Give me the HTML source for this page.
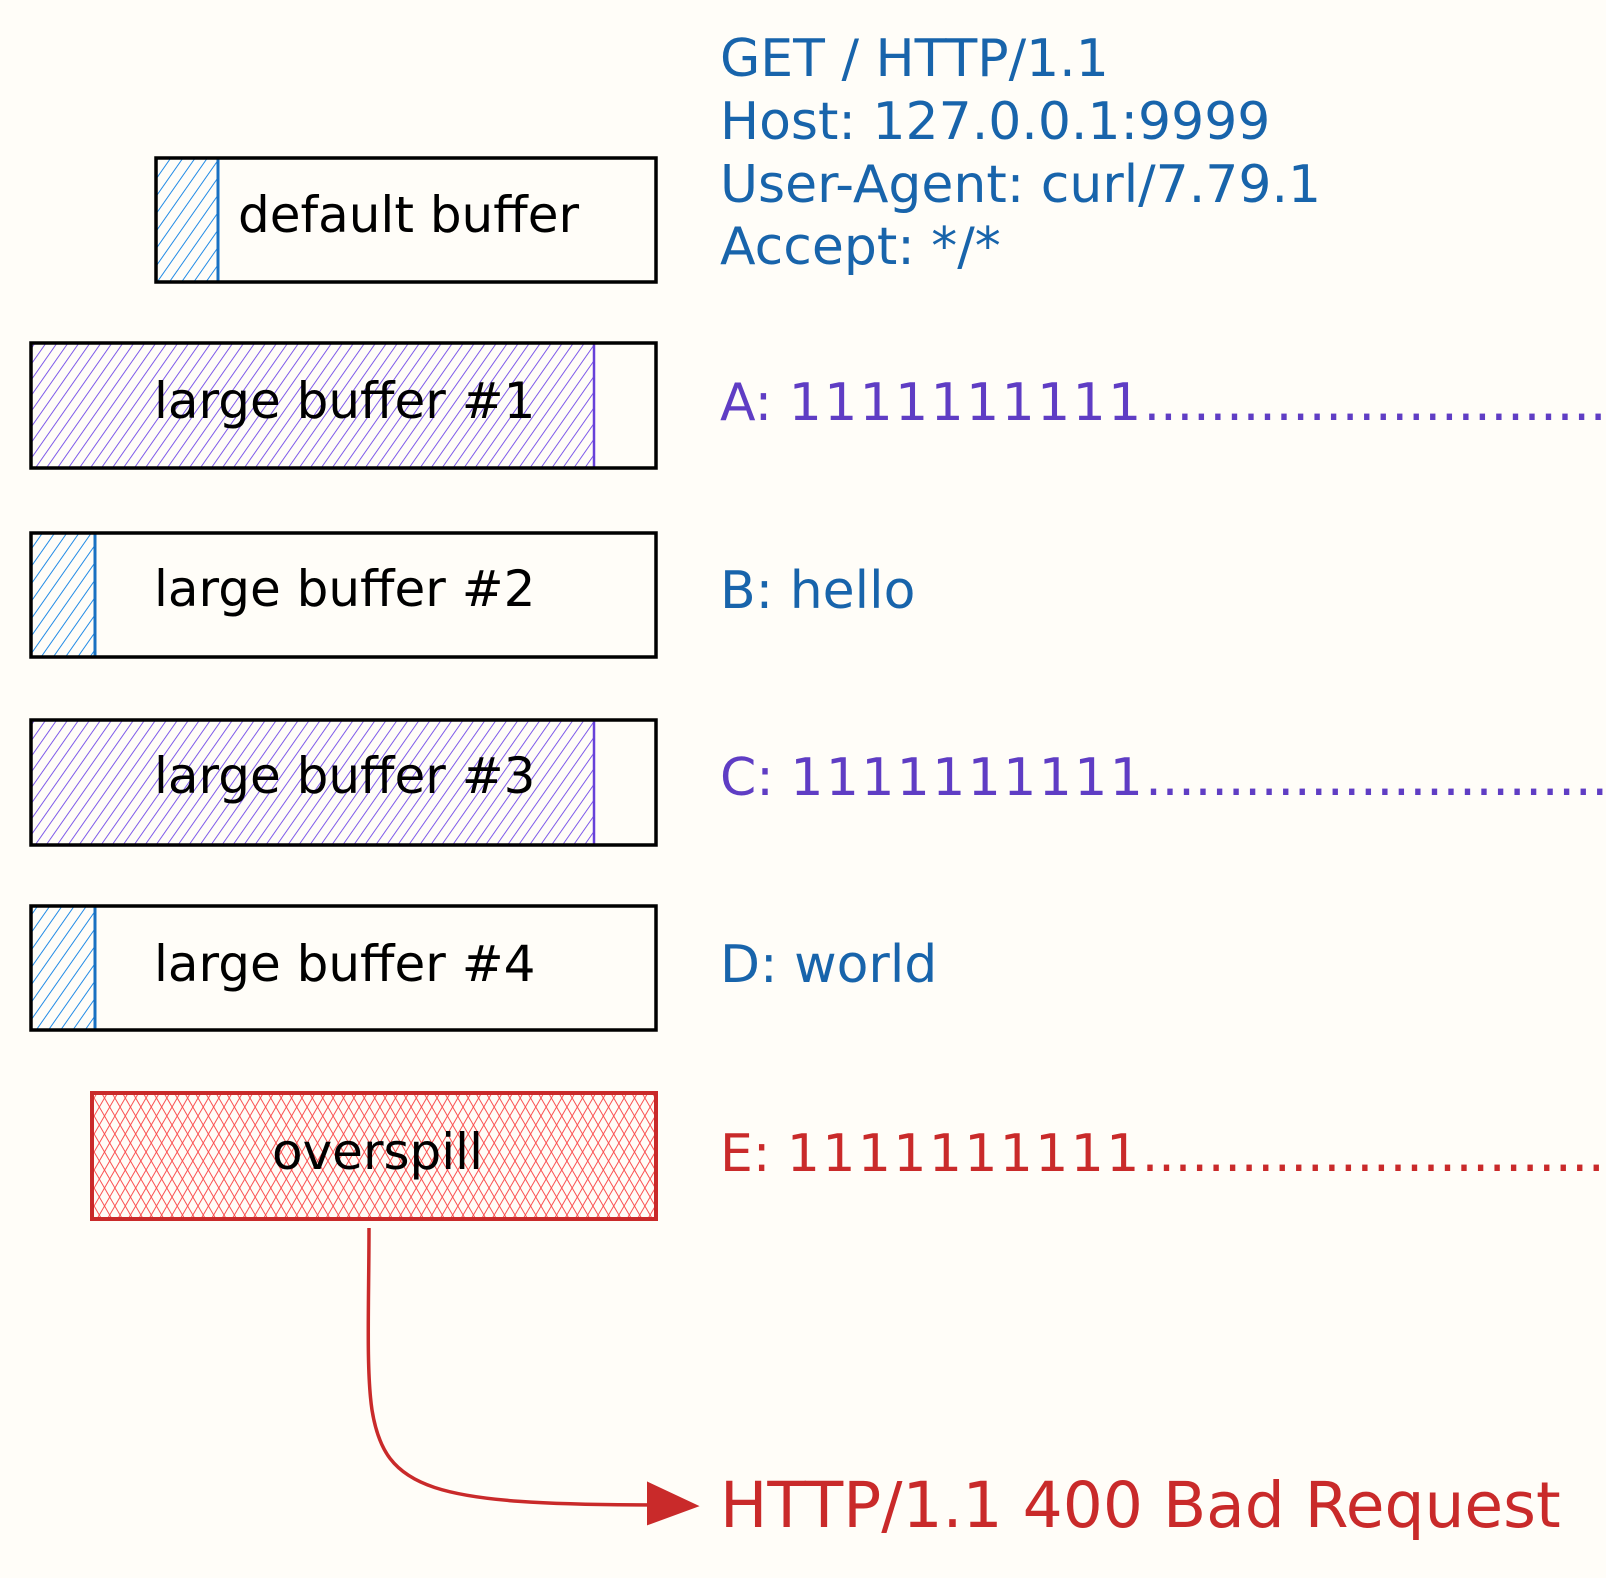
<!DOCTYPE html>
<html><head><meta charset="utf-8"><style>
html,body{margin:0;padding:0;background:#fffdf8;}
svg{display:block}
text{font-family:"DejaVu Sans","Liberation Sans",sans-serif;}
</style></head><body>
<svg width="1606" height="1578" viewBox="0 0 1606 1578" xmlns="http://www.w3.org/2000/svg">
<defs>
<pattern id="hb" width="10" height="10" patternUnits="userSpaceOnUse" patternTransform="rotate(35)">
<line x1="0" y1="0" x2="0" y2="10" stroke="#228be6" stroke-width="2"/></pattern>
<pattern id="hp" width="9" height="9" patternUnits="userSpaceOnUse" patternTransform="rotate(35)">
<line x1="0" y1="0" x2="0" y2="9" stroke="#7048e8" stroke-width="1.8"/></pattern>
<pattern id="hr1" width="9" height="9" patternUnits="userSpaceOnUse" patternTransform="rotate(30)">
<line x1="0" y1="0" x2="0" y2="9" stroke="#fa5252" stroke-width="2"/></pattern>
<pattern id="hr2" width="9" height="9" patternUnits="userSpaceOnUse" patternTransform="rotate(-30)">
<line x1="0" y1="0" x2="0" y2="9" stroke="#fa5252" stroke-width="2"/></pattern>
</defs>
<rect width="1606" height="1578" fill="#fffdf8"/>

<rect x="156" y="158" width="62" height="124" fill="url(#hb)" stroke="#1971c2" stroke-width="3"/>
<rect x="156" y="158" width="500" height="124" fill="none" stroke="#000" stroke-width="3.5"/>
<text x="238" y="232" font-size="50" fill="#000">default buffer</text>

<rect x="31" y="343" width="563" height="125" fill="url(#hp)" stroke="#6741d9" stroke-width="2.5"/>
<rect x="31" y="343" width="625" height="125" fill="none" stroke="#000" stroke-width="3.5"/>
<text x="154" y="418" font-size="50" fill="#000">large buffer #1</text>

<rect x="31" y="533" width="64" height="124" fill="url(#hb)" stroke="#1971c2" stroke-width="3"/>
<rect x="31" y="533" width="625" height="124" fill="none" stroke="#000" stroke-width="3.5"/>
<text x="154" y="606" font-size="50" fill="#000">large buffer #2</text>

<rect x="31" y="720" width="563" height="125" fill="url(#hp)" stroke="#6741d9" stroke-width="2.5"/>
<rect x="31" y="720" width="625" height="125" fill="none" stroke="#000" stroke-width="3.5"/>
<text x="154" y="793" font-size="50" fill="#000">large buffer #3</text>

<rect x="31" y="906" width="64" height="124" fill="url(#hb)" stroke="#1971c2" stroke-width="3"/>
<rect x="31" y="906" width="625" height="124" fill="none" stroke="#000" stroke-width="3.5"/>
<text x="154" y="981" font-size="50" fill="#000">large buffer #4</text>

<rect x="92" y="1093" width="564" height="126" fill="url(#hr1)"/>
<rect x="92" y="1093" width="564" height="126" fill="url(#hr2)" stroke="#c92a2a" stroke-width="4"/>
<text x="272" y="1169" font-size="50" fill="#000">overspill</text>

<g font-size="52" fill="#1864ab">
<text x="720" y="76">GET / HTTP/1.1</text>
<text x="720" y="139">Host: 127.0.0.1:9999</text>
<text x="720" y="202">User-Agent: curl/7.79.1</text>
<text x="720" y="264">Accept: */*</text>
<text x="720" y="608">B: hello</text>
<text x="720" y="982">D: world</text>
</g>
<text x="720" y="420" font-size="52" fill="#5f3dc4">A: <tspan letter-spacing="2.4">1111111111</tspan>....................................</text>
<text x="720" y="795" font-size="52" fill="#5f3dc4">C: <tspan letter-spacing="2.4">1111111111</tspan>....................................</text>
<text x="720" y="1171" font-size="52" fill="#c92a2a">E: <tspan letter-spacing="2.4">1111111111</tspan>....................................</text>
<text x="720" y="1527" font-size="63" fill="#c92a2a">HTTP/1.1 400 Bad Request</text>

<path d="M369 1228 C369 1300 366 1370 372 1410 C385 1490 430 1505 660 1505" fill="none" stroke="#c92a2a" stroke-width="3.5"/>
<polygon points="648,1483 697,1506 648,1524" fill="#c92a2a" stroke="#c92a2a" stroke-width="2"/>
</svg>
</body></html>
